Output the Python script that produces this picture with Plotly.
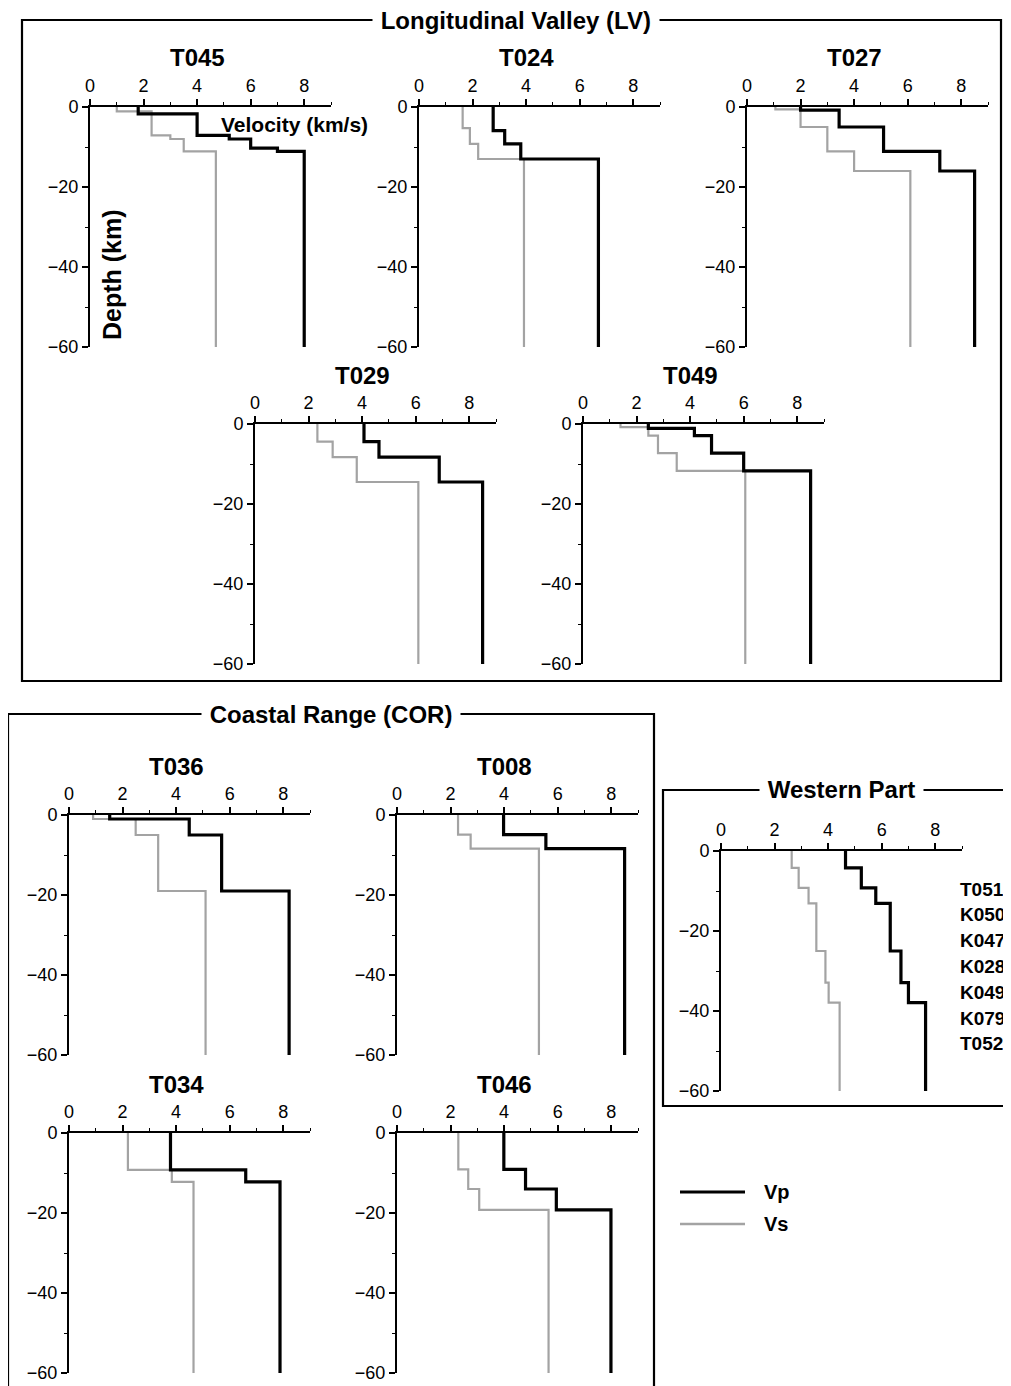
import plotly.graph_objects as go

W, H = 1011, 1386
FONT = "Liberation Sans, Arial, Helvetica, sans-serif"

# ---------------- data: layer tops (km), Vp and Vs (km/s) ----------------
T045_VP_TOP = [0, 1.7, 7.1, 8.0, 10.3, 11.1]
T045_VP = [1.8, 4.0, 5.2, 6.0, 7.0, 8.0]
T045_VS_TOP = [0, 1.1, 7.1, 8.0, 11.1]
T045_VS = [1.0, 2.3, 3.0, 3.5, 4.7]

T024_VP_TOP = [0, 5.9, 9.2, 13.0]
T024_VP = [2.77, 3.2, 3.8, 6.7]
T024_VS_TOP = [0, 5.3, 9.2, 13.0]
T024_VS = [1.63, 1.9, 2.21, 3.92]

T027_VP_TOP = [0, 0.8, 5.0, 11.1, 16.0]
T027_VP = [2.0, 3.44, 5.1, 7.2, 8.5]
T027_VS_TOP = [0, 0.6, 5.0, 11.1, 16.0]
T027_VS = [1.06, 2.0, 3.0, 4.0, 6.1]

T029_VP_TOP = [0, 4.4, 8.3, 14.5]
T029_VP = [4.07, 4.63, 6.88, 8.5]
T029_VS_TOP = [0, 4.4, 8.3, 14.5]
T029_VS = [2.33, 2.9, 3.8, 6.1]

T049_VP_TOP = [0, 1.1, 2.9, 7.3, 11.7]
T049_VP = [2.44, 4.16, 4.8, 6.0, 8.5]
T049_VS_TOP = [0, 0.8, 2.9, 7.3, 11.7]
T049_VS = [1.4, 2.44, 2.8, 3.5, 6.06]

T036_VP_TOP = [0, 1.0, 5.0, 19.0]
T036_VP = [1.52, 4.49, 5.7, 8.22]
T036_VS_TOP = [0, 1.0, 5.0, 19.0]
T036_VS = [0.9, 2.49, 3.33, 5.1]

T008_VP_TOP = [0, 4.9, 8.4]
T008_VP = [3.98, 5.56, 8.5]
T008_VS_TOP = [0, 4.9, 8.4]
T008_VS = [2.28, 2.75, 5.3]

T034_VP_TOP = [0, 9.2, 12.2]
T034_VP = [3.79, 6.6, 7.88]
T034_VS_TOP = [0, 9.2, 12.2]
T034_VS = [2.2, 3.84, 4.65]

T046_VP_TOP = [0, 9.1, 14.0, 19.2]
T046_VP = [3.99, 4.8, 5.95, 7.99]
T046_VS_TOP = [0, 9.1, 14.0, 19.2]
T046_VS = [2.29, 2.66, 3.07, 5.66]

WEST_VP_TOP = [0, 4.2, 9.2, 13.1, 25.0, 32.9, 37.9]
WEST_VP = [4.65, 5.24, 5.78, 6.32, 6.72, 7.0, 7.64]
WEST_VS_TOP = [0, 4.2, 9.2, 13.1, 25.0, 32.9, 37.9]
WEST_VS = [2.64, 2.9, 3.27, 3.56, 3.9, 4.02, 4.43]

WEST_STATIONS = ["T051", "K050", "K047", "K028", "K049", "K079", "T052"]

X_TICKS = [0, 2, 4, 6, 8]
Y_TICKS = [0, -20, -40, -60]
Y_TICKTEXT = ["0", "\u221220", "\u221240", "\u221260"]
MAX_DEPTH = 60

# ---------------- layout (pixel positions of each panel origin) ----------------
PANELS = [
    ("T045", 90, 107, T045_VP_TOP, T045_VP, T045_VS_TOP, T045_VS),
    ("T024", 419, 107, T024_VP_TOP, T024_VP, T024_VS_TOP, T024_VS),
    ("T027", 747, 107, T027_VP_TOP, T027_VP, T027_VS_TOP, T027_VS),
    ("T029", 255, 424, T029_VP_TOP, T029_VP, T029_VS_TOP, T029_VS),
    ("T049", 583, 424, T049_VP_TOP, T049_VP, T049_VS_TOP, T049_VS),
    ("T036", 69, 815, T036_VP_TOP, T036_VP, T036_VS_TOP, T036_VS),
    ("T008", 397, 815, T008_VP_TOP, T008_VP, T008_VS_TOP, T008_VS),
    ("T034", 69, 1133, T034_VP_TOP, T034_VP, T034_VS_TOP, T034_VS),
    ("T046", 397, 1133, T046_VP_TOP, T046_VP, T046_VS_TOP, T046_VS),
    ("", 721, 851, WEST_VP_TOP, WEST_VP, WEST_VS_TOP, WEST_VS),
]
PW = 241  # panel width in px (0..9 km/s)
PH = 240  # panel height in px (0..60 km)
GRAY = "#a3a3a3"
OFF = 8  # page (body) margin offset in the browser


def px(x):
    return (x - OFF) / W


def py(y):
    return 1 - (y - OFF) / H


fig = go.Figure()
annotations = []
shapes = []


def step(tops, vel):
    xs = list(vel) + [vel[-1]]
    ys = [-t for t in tops] + [-MAX_DEPTH]
    return xs, ys


for i, (name, x0, y0, vpt, vp, vst, vs) in enumerate(PANELS):
    k = i + 1
    xa = "x" if k == 1 else f"x{k}"
    ya = "y" if k == 1 else f"y{k}"
    xs, ys = step(vst, vs)
    fig.add_trace(go.Scatter(x=xs, y=ys, mode="lines", line=dict(color=GRAY, width=2.2, shape="vh"),
                             xaxis=xa, yaxis=ya, showlegend=False, hoverinfo="skip"))
    xs, ys = step(vpt, vp)
    fig.add_trace(go.Scatter(x=xs, y=ys, mode="lines", line=dict(color="black", width=3.2, shape="vh"),
                             xaxis=xa, yaxis=ya, showlegend=False, hoverinfo="skip"))
    xkey = "xaxis" if k == 1 else f"xaxis{k}"
    ykey = "yaxis" if k == 1 else f"yaxis{k}"
    fig.layout[xkey] = dict(
        domain=[px(x0), px(x0 + PW)], range=[0, 9], side="top", anchor=ya, automargin=False,
        tickvals=X_TICKS, ticks="outside", ticklen=6, tickwidth=1.5, tickcolor="black",
        minor=dict(dtick=1, tick0=0, ticklen=3, tickwidth=1, tickcolor="black", ticks="outside"),
        showline=True, linewidth=2, linecolor="black", showgrid=False, zeroline=False,
        tickfont=dict(family=FONT, size=18, color="black"), fixedrange=True,
    )
    fig.layout[ykey] = dict(
        domain=[py(y0 + PH), py(y0)], range=[-MAX_DEPTH, 0], anchor=xa, automargin=False,
        tickvals=Y_TICKS, ticktext=Y_TICKTEXT, ticks="outside", ticklen=6, tickwidth=1.5,
        tickcolor="black",
        minor=dict(dtick=10, tick0=0, ticklen=3, tickwidth=1, tickcolor="black", ticks="outside"),
        showline=True, linewidth=2, linecolor="black", showgrid=False, zeroline=False,
        tickfont=dict(family=FONT, size=18, color="black"), fixedrange=True,
    )
    if name:
        annotations.append(dict(x=px(x0 + 107), y=py(y0 - 49), xref="paper", yref="paper",
                                text=f"<b>{name}</b>", showarrow=False,
                                font=dict(family=FONT, size=24, color="black"),
                                xanchor="center", yanchor="middle"))

# section frames
FRAMES = [
    ("Longitudinal Valley (LV)", 22, 20, 1001, 681, 516, 21),
    ("Coastal Range (COR)", 8, 714, 654, 1410, 331, 714),
    ("Western Part", 663, 790, 1040, 1106, 841, 790),
]
for title, fx0, fy0, fx1, fy1, tx, ty in FRAMES:
    shapes.append(dict(type="rect", xref="paper", yref="paper", x0=px(fx0), x1=px(fx1),
                       y0=py(fy1), y1=py(fy0), line=dict(color="black", width=2.2),
                       fillcolor="rgba(0,0,0,0)", layer="below"))
    annotations.append(dict(x=px(tx), y=py(ty), xref="paper", yref="paper",
                            text=f"&nbsp;<b>{title}</b>&nbsp;", showarrow=False, bgcolor="white",
                            borderpad=1, font=dict(family=FONT, size=24, color="black"),
                            xanchor="center", yanchor="middle"))

# axis labels on first panel
annotations.append(dict(x=px(294), y=py(124), xref="paper", yref="paper",
                        text="<b>Velocity (km/s)</b>", showarrow=False,
                        font=dict(family=FONT, size=21, color="black"),
                        xanchor="center", yanchor="middle"))
annotations.append(dict(x=px(112), y=py(275), xref="paper", yref="paper",
                        text="<b>Depth (km)</b>", showarrow=False, textangle=-90,
                        font=dict(family=FONT, size=25, color="black"),
                        xanchor="center", yanchor="middle"))

# western stations list
for j, st in enumerate(WEST_STATIONS):
    annotations.append(dict(x=px(958), y=py(889 + 25.8 * j), xref="paper", yref="paper",
                            text=f"<b>{st}</b>", showarrow=False,
                            font=dict(family=FONT, size=19, color="black"),
                            xanchor="left", yanchor="middle"))

# legend
LEGEND = [("Vp", "black", 3.2, 1192), ("Vs", GRAY, 2.4, 1224)]
for lab, col, lw, ly in LEGEND:
    shapes.append(dict(type="line", xref="paper", yref="paper", x0=px(680), x1=px(745),
                       y0=py(ly), y1=py(ly), line=dict(color=col, width=lw)))
    annotations.append(dict(x=px(762), y=py(ly), xref="paper", yref="paper",
                            text=f"<b>{lab}</b>", showarrow=False,
                            font=dict(family=FONT, size=20, color="black"),
                            xanchor="left", yanchor="middle"))

fig.update_layout(
    width=W, height=H, margin=dict(l=0, r=0, t=0, b=0, pad=0, autoexpand=False),
    autosize=False,
    paper_bgcolor="white", plot_bgcolor="rgba(0,0,0,0)",
    annotations=annotations, shapes=shapes, showlegend=False,
    font=dict(family=FONT, color="black"),
)

fig.write_html("out.html")
